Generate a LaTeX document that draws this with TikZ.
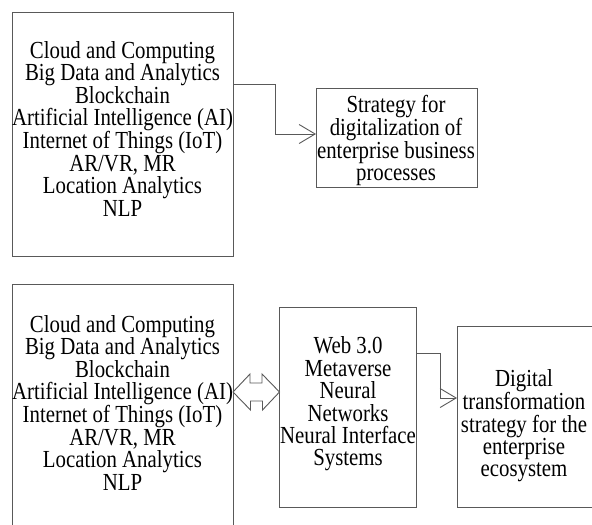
\documentclass[tikz,border=0pt]{standalone}
\usepackage{fontspec}
\setmainfont[FakeStretch=0.85]{Liberation Serif}
\usetikzlibrary{arrows.meta,calc}
\begin{document}
\begin{tikzpicture}[x=1pt,y=-1pt,
  frame/.style={draw=black!65,line width=0.9pt,inner sep=0pt,outer sep=0pt},
  txt/.style={inner sep=0pt,align=center,anchor=north,font=\fontsize{24.5}{22.4}\selectfont},
  conn/.style={draw=black!65,line width=0.9pt,-{Straight Barb[length=16pt,width=19pt]}},
  dbl/.style={draw=black!65,line width=0.9pt,fill=white}]
\useasboundingbox (0,0) rectangle (592,525);
\clip (0,0) rectangle (592,525);
% top row
\node[frame,minimum width=221pt,minimum height=244pt] (b1) at (122.5,134) {};
\node[txt] (t1) at (122.5,41) {Cloud and Computing\\Big Data and Analytics\\Blockchain\\Artificial Intelligence (AI)\\Internet of Things (IoT)\\AR/VR, MR\\Location Analytics\\NLP};
\node[frame,minimum width=161pt,minimum height=99pt] (b2) at (396.5,137.5) {};
\node[txt] (t2) at (396,95) {Strategy for\\digitalization of\\enterprise business\\processes};
\draw[conn] (b1.east |- 0,84) -| (275,134) -- (b2.west |- 0,134);
% bottom row
\node[frame,minimum width=221pt,minimum height=244pt] (b3) at (122.5,406) {};
\node[txt] (t3) at (122.5,315) {Cloud and Computing\\Big Data and Analytics\\Blockchain\\Artificial Intelligence (AI)\\Internet of Things (IoT)\\AR/VR, MR\\Location Analytics\\NLP};
\node[frame,minimum width=137pt,minimum height=200pt] (b4) at (348,407) {};
\node[txt] (t4) at (348,336.7) {Web 3.0\\Metaverse\\Neural\\Networks\\Neural Interface\\Systems};
\node[frame,minimum width=153pt,minimum height=181pt] (b5) at (533.5,416.5) {};
\node[txt] (t5) at (524,369) {Digital\\transformation\\strategy for the\\enterprise\\ecosystem};
\draw[conn] (b4.east |- 0,353) -| (440,398) -- (b5.west |- 0,398);
% double arrow between b3 and b4
\draw[dbl] (b3.east |- 0,392) -- ++(17,-18) -- ++(0,9) -- ++(12,0) -- ++(0,-9)
  -- (b4.west |- 0,392) -- ++(-17,18) -- ++(0,-9) -- ++(-12,0) -- ++(0,9) -- cycle;
\end{tikzpicture}
\end{document}
